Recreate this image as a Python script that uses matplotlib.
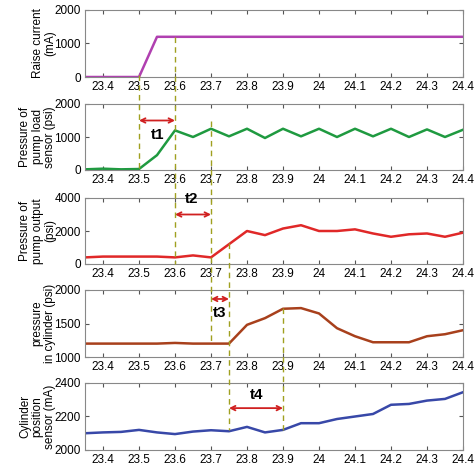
import matplotlib
matplotlib.use("Agg")
import matplotlib.pyplot as plt
import matplotlib.transforms as mtransforms
import numpy as np

plt.rcParams['font.family'] = ['Liberation Sans', 'DejaVu Sans']

# ---- data ----
x1 = [23.35, 23.5, 23.55, 24.4]
raise_current = [0, 0, 1200, 1200]

x_grid = [23.35, 23.40, 23.45, 23.50, 23.55, 23.60, 23.65, 23.70, 23.75, 23.80, 23.85,
          23.90, 23.95, 24.00, 24.05, 24.10, 24.15, 24.20, 24.25, 24.30, 24.35, 24.40]
pump_load = [20, 40, 20, 30, 450, 1200, 1000, 1250, 1020, 1250, 970,
             1250, 1020, 1250, 1000, 1250, 1020, 1250, 1000, 1230, 1000, 1220]
pump_output = [400, 450, 450, 450, 450, 400, 520, 400, 1200, 2000, 1750,
               2150, 2350, 2000, 2000, 2100, 1850, 1650, 1800, 1850, 1650, 1900]
cyl_pressure = [1200, 1200, 1200, 1200, 1200, 1210, 1200, 1200, 1200, 1480, 1580,
                1720, 1730, 1650, 1430, 1310, 1220, 1220, 1220, 1310, 1340, 1400]
cyl_position = [2100, 2105, 2108, 2120, 2105, 2095, 2110, 2118, 2112, 2138, 2105,
                2120, 2160, 2160, 2185, 2200, 2215, 2270, 2275, 2295, 2305, 2345]

ylabels = ["Raise current\n(mA)", "Pressure of\npump load\nsensor (psi)",
           "Pressure of\npump output\n(psi)", "pressure\nin cylinder (psi)",
           "Cylinder\nposition\nsensor (mA)"]
yticks = [[0, 1000, 2000], [0, 1000, 2000], [0, 2000, 4000], [1000, 1500, 2000], [2000, 2200, 2400]]
xticks = [23.4, 23.5, 23.6, 23.7, 23.8, 23.9, 24.0, 24.1, 24.2, 24.3, 24.4]
xticklabels = ["23.4", "23.5", "23.6", "23.7", "23.8", "23.9", "24", "24.1", "24.2", "24.3", "24.4"]
colors = ["#b040b0", "#1f9a40", "#e02828", "#a8401c", "#3848a8"]

# interval markers: (x_start, x_end, panel, y, label, label_x, label_y)
intervals = [(23.5, 23.6, 1, 1500, "t1", 23.553, 1060),
             (23.6, 23.7, 2, 3000, "t2", 23.647, 3950),
             (23.7, 23.75, 3, 1866, "t3", 23.725, 1650),
             (23.75, 23.9, 4, 2250, "t4", 23.828, 2330)]
# dashed guide lines: x, top pixel, bottom pixel (figure pixel rows)
guides = [(23.5, 75, 170), (23.6, 37, 264), (23.7, 121, 343), (23.75, 243, 430), (23.9, 308, 430)]

W, H = 475, 470
fig = plt.figure(figsize=(W / 100, H / 100), dpi=100)
boxes = [(10, 77), (104, 170), (198, 264), (290, 357), (383, 450)]
axes = []
xs = [x1, x_grid, x_grid, x_grid, x_grid]
ys = [raise_current, pump_load, pump_output, cyl_pressure, cyl_position]
for i, (top, bot) in enumerate(boxes):
    ax = fig.add_axes([85 / W, 1 - bot / H, 378 / W, (bot - top) / H])
    ax.plot(xs[i], ys[i], color=colors[i], lw=1.8)
    ax.set_xlim(23.35, 24.4)
    ax.set_ylim(yticks[i][0], yticks[i][-1])
    ax.set_yticks(yticks[i])
    ax.set_xticks(xticks)
    ax.set_xticklabels(xticklabels)
    ax.tick_params(direction='in', top=True, right=True, labelsize=8.5, length=3,
                   color='#555555', pad=3)
    for s in ax.spines.values():
        s.set_color('#888888')
        s.set_linewidth(0.8)
    ax.set_ylabel(ylabels[i], fontsize=8.5, linespacing=1.05)
    ax.yaxis.set_label_coords((56 - 85) / 378, 0.5)
    axes.append(ax)

for (xa, xb, p, yv, lab, lx, ly) in intervals:
    ax = axes[p]
    ax.annotate("", xy=(xb, yv), xytext=(xa, yv),
                arrowprops=dict(arrowstyle="<->", color="#d02020", lw=1.3,
                                shrinkA=0, shrinkB=0, mutation_scale=8))
    ax.text(lx, ly, lab, fontsize=11, fontweight='bold', ha='center', va='center',
            clip_on=False)

for (xv, ptop, pbot) in guides:
    tr = mtransforms.blended_transform_factory(axes[0].transData, fig.transFigure)
    line = plt.Line2D([xv, xv], [1 - ptop / H, 1 - pbot / H], transform=tr,
                      color="#a0a020", lw=1.0, ls=(0, (4, 3)))
    fig.add_artist(line)

fig.savefig("out.png", dpi=100)
